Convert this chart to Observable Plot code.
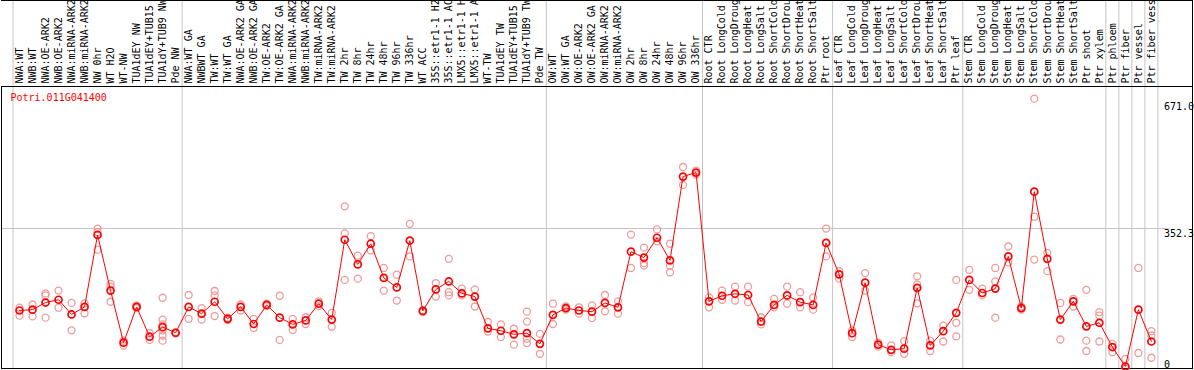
<!DOCTYPE html>
<html><head><meta charset="utf-8">
<script src="https://cdn.jsdelivr.net/npm/d3@7"></script>
<script src="https://cdn.jsdelivr.net/npm/@observablehq/plot@0.6"></script>
<style>body{margin:0;background:#fff}</style>
</head><body><div id="chart"></div>
<script>
const title = "Potri.011G041400";
const labels = [
  "NWA:WT","NWB:WT","NWA:OE-ARK2","NWB:OE-ARK2","NWA:miRNA-ARK2","NWB:miRNA-ARK2","NW 0hr","WT H2O","WT-NW","TUA1dEY NW","TUA1dEY+TUB15","TUA1dY+TUB9 NW","Pde NW",
  "NWA:WT GA","NWBWT GA","TW:WT","TW:WT GA","NWA:OE-ARK2 GA","NWB:OE-ARK2 GA","TW:OE-ARK2","TW:OE-ARK2 GA","NWA:miRNA-ARK2","NWB:miRNA-ARK2","TW:miRNA-ARK2","TW:miRNA-ARK2","TW 2hr","TW 8hr","TW 24hr","TW 48hr","TW 96hr","TW 336hr","WT ACC","35S::etr1-1 H2","35S::etr1-1 AC","LMX5::etr1-1 H","LMX5::etr1-1 A","WT-TW","TUA1dEY TW","TUA1dEY+TUB15","TUA1dY+TUB9 TW","Pde TW",
  "OW:WT","OW:WT GA","OW:OE-ARK2","OW:OE-ARK2 GA","OW:miRNA-ARK2","OW:miRNA-ARK2","OW 2hr","OW 8hr","OW 24hr","OW 48hr","OW 96hr","OW 336hr",
  "Root CTR","Root LongCold","Root LongDroug","Root LongHeat","Root LongSalt","Root ShortCold","Root ShortDrou","Root ShortHeat","Root ShortSalt","Ptr root",
  "Leaf CTR","Leaf LongCold","Leaf LongDroug","Leaf LongHeat","Leaf LongSalt","Leaf ShortCold","Leaf ShortDrou","Leaf ShortHeat","Leaf ShortSalt","Ptr leaf",
  "Stem CTR","Stem LongCold","Stem LongDroug","Stem LongHeat","Stem LongSalt","Stem ShortCold","Stem ShortDrou","Stem ShortHeat","Stem ShortSalt","Ptr shoot","Ptr xylem",
  "Ptr phloem","Ptr fiber","Ptr vessel","Ptr fiber vess"
];
const groupSizes = [13, 28, 12, 10, 10, 11, 1, 1, 1, 1];
const means = [
  146,148,166,173,136,155,336,196,65,155,80,104,90,
  155,138,168,125,155,112,160,128,111,121,163,123,324,262,314,228,204,322,145,199,219,189,181,101,95,86,89,62,
  135,152,146,143,165,154,294,279,329,272,483,493,
  169,183,188,185,118,160,184,167,160,316,
  237,89,216,60,47,50,203,58,94,140,
  223,190,201,282,152,445,276,123,169,106,115,
  54,5,148,68
];
const reps = [
  [153,133],[161,131],[189,184,128],[196,153],[165,96],[164,139],[352,343,299],[213,206,168],[70,58],[159,152],[89,72],[178,123,111,96,83,70],[91,88],
  [185,125],[152,123],[195,184,132],[128,122],[161,146],[125,102],[163,157],[183,72],[125,97],[129,112],[169,157],[140,105],[408,340,223],[284,226],[333,297],[253,196],[236,171],[364,282],[146,142],[215,181],[276,192,184],[201,184],[199,156],[117,93],[111,79],[100,60],[143,118,75,64],[87,37],
  [163,112],[156,148],[154,138],[159,127],[185,144],[169,138],[337,253],[304,265,259],[350,320],[314,259,242],[507,462],[498,488],
  [179,154],[196,173],[206,171],[206,167],[129,111],[175,154],[206,163],[192,154],[179,148],[352,282],
  [245,226],[96,79],[240,196],[55,65],[58,41],[69,37],[232,211,164],[70,44],[108,68],[223,115,81],
  [248,198],[201,184],[253,219,128],[307,267],[156,148],[679,382,274],[291,245],[165,73],[175,156],[198,70,44],[142,133,68],
  [62,41],[24,0],[253,39],[94,83,27]
];
const yTicks = [0, 352.3, 671.0];

const n = labels.length;
const xDomain = [-1.384, 90.16];
const yTop = 709.6;
const bounds = [-0.5];
{ let acc = 0; for (const s of groupSizes) { acc += s; bounds.push(acc - 0.5); } }
const meanData = means.map((v, i) => ({i, v}));
const repData = reps.flatMap((arr, i) => arr.map(v => ({i, v})));
const labelData = labels.map((l, i) => ({i, l}));
const grid = "#c4c4c4";

const chart = Plot.plot({
  width: 1194, height: 370,
  marginTop: 86, marginBottom: 2, marginLeft: 1, marginRight: 2,
  x: {type: "linear", domain: xDomain, axis: null},
  y: {domain: [0, yTop], axis: null},
  style: {fontFamily: "DejaVu Sans Mono", fontSize: "10px", background: "white", color: "black"},
  marks: [
    Plot.ruleX(bounds, {stroke: grid, insetTop: -86}),
    Plot.ruleY([yTicks[1]], {stroke: grid, x1: xDomain[0], x2: n + 0.35}),
    Plot.frame({stroke: "black"}),
    Plot.ruleX([xDomain[1]], {stroke: "black", insetTop: -86}),
    Plot.ruleY([yTop], {stroke: "black"}),
    Plot.ruleY([yTop], {stroke: "black", dy: -86}),
    Plot.text(labelData, {x: "i", text: "l", frameAnchor: "top", rotate: -90, textAnchor: "start", lineAnchor: "middle", dy: -3, fill: "black"}),
    Plot.text([title], {text: d => d, frameAnchor: "top-left", dx: 9, dy: 11, fill: "red", textAnchor: "start", lineAnchor: "middle"}),
    Plot.text(yTicks.filter(d => d > 0), {x: () => bounds[bounds.length - 1], y: d => d, text: d => d.toFixed(1), textAnchor: "start", lineAnchor: "top", dx: 6, dy: 1, fill: "black"}),
    Plot.text(yTicks.filter(d => d === 0), {x: () => bounds[bounds.length - 1], y: d => d, text: d => String(d), textAnchor: "start", lineAnchor: "bottom", dx: 6, dy: -1, fill: "black"}),
    Plot.dot(repData, {x: "i", y: "v", r: 3.5, stroke: "#f09a9a", strokeWidth: 1.3, fill: "none"}),
    Plot.line(meanData, {x: "i", y: "v", stroke: "red", strokeWidth: 1}),
    Plot.dot(meanData, {x: "i", y: "v", r: 3.5, stroke: "red", strokeWidth: 1.7, fill: "none"})
  ]
});
document.getElementById("chart").appendChild(chart);
</script>
</body></html>
